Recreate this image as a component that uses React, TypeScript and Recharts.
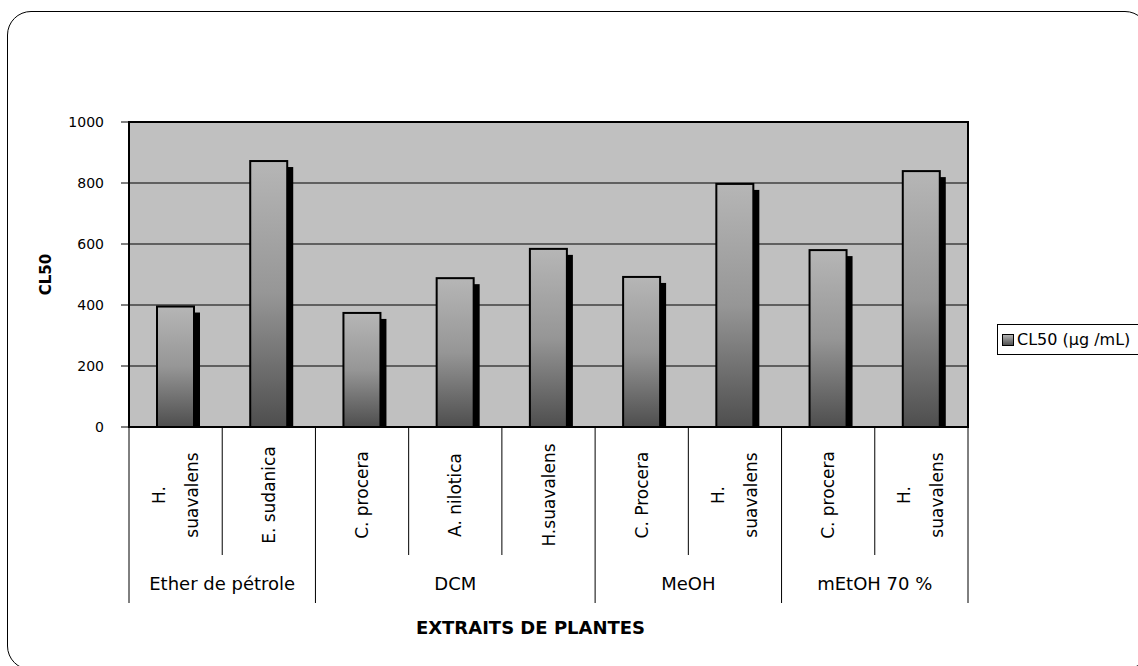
import React from 'react';
import { BarChart, Bar, XAxis, YAxis, CartesianGrid, ReferenceArea, Legend } from 'recharts';

// CL50 per plant extract, grouped by extraction solvent
const plants = [
  'H.\nsuavalens',
  'E. sudanica',
  'C. procera',
  'A. nilotica',
  'H.suavalens',
  'C. Procera',
  'H.\nsuavalens',
  'C. procera',
  'H.\nsuavalens',
];
const solvents = [
  'Ether de pétrole',
  'Ether de pétrole',
  'DCM',
  'DCM',
  'DCM',
  'MeOH',
  'MeOH',
  'mEtOH 70 %',
  'mEtOH 70 %',
];
const cl50 = [395, 872, 374, 488, 584, 492, 797, 580, 839];
const yTicks = [0, 200, 400, 600, 800, 1000];
const SERIES_NAME = 'CL50 (µg /mL)';

const data = plants.map((plant, i) => ({ plant, solvent: solvents[i], cl50: cl50[i] }));

// layout
const W = 1138;
const H = 666;
const MARGIN = { top: 122, right: 170, bottom: 0, left: 0 };
const Y_AXIS_W = 129;
const X_AXIS_H = H - 427;
const PLOT_W = W - MARGIN.right - MARGIN.left - Y_AXIS_W;
const FONT = '"DejaVu Sans", sans-serif';

function PlantTick(props: any) {
  const { x, y, payload, index } = props;
  const step = PLOT_W / plants.length;
  const left = x - step / 2;
  const lines = String(payload.value).split('\n');
  const first = index === 0 || solvents[index] !== solvents[index - 1];
  const last = index === plants.length - 1;

  let groupLabel = null;
  if (first) {
    let n = 0;
    while (index + n < solvents.length && solvents[index + n] === solvents[index]) n++;
    groupLabel = (
      <text x={left + (n * step) / 2} y={y + 163} textAnchor="middle" fontSize={18} fill="#000" fontFamily={FONT}>
        {solvents[index]}
      </text>
    );
  }

  const lineOffsets = lines.length === 2 ? [-17, 16] : [0];

  return (
    <g>
      <line x1={left} x2={left} y1={y} y2={y + (first ? 176 : 128)} stroke="#000" strokeWidth={1} />
      {last && <line x1={left + step} x2={left + step} y1={y} y2={y + 176} stroke="#000" strokeWidth={1} />}
      {lines.map((t, i) => (
        <text
          key={i}
          transform={`translate(${x + lineOffsets[i]}, ${y + 68}) rotate(-90)`}
          textAnchor="middle"
          dominantBaseline="central"
          fontSize={17}
          fill="#000"
          fontFamily={FONT}
        >
          {t}
        </text>
      ))}
      {groupLabel}
    </g>
  );
}

function ShadowBar(props: any) {
  const { x, y, width, height } = props;
  if (!height || height <= 0) return null;
  return (
    <g>
      <rect x={x + 6} y={y + 6} width={width} height={Math.max(height - 6, 0)} fill="#000" />
      <rect x={x} y={y} width={width} height={height} fill="url(#barFill)" stroke="#000" strokeWidth={2} />
    </g>
  );
}

function LegendBox(props: any) {
  const item = props.payload && props.payload[0];
  return (
    <div
      style={{
        border: '1px solid #000',
        background: '#fff',
        height: 31,
        width: 180,
        display: 'flex',
        alignItems: 'center',
        paddingLeft: 4,
        boxSizing: 'border-box',
        fontFamily: FONT,
        fontSize: 16,
        color: '#000',
      }}
    >
      <span
        style={{
          display: 'inline-block',
          width: 10,
          height: 10,
          border: '1px solid #000',
          background: 'linear-gradient(#b4b4b4, #505050)',
          marginRight: 3,
        }}
      />
      {item ? item.value : SERIES_NAME}
    </div>
  );
}

export default function App() {
  return (
    <div style={{ position: 'absolute', left: 0, top: 0, width: W, height: H, overflow: 'hidden', background: '#fff' }}>
      <div
        style={{
          position: 'absolute',
          left: 7,
          top: 11,
          width: 1142,
          height: 659,
          border: '1.5px solid #000',
          borderRadius: 24,
          boxSizing: 'border-box',
        }}
      />
      <div style={{ position: 'absolute', left: 0, top: 0 }}>
        <BarChart width={W} height={H} data={data} margin={MARGIN}>
          <defs>
            <linearGradient id="barFill" x1="0" y1="0" x2="0" y2="1">
              <stop offset="0%" stopColor="#b6b6b6" />
              <stop offset="50%" stopColor="#969696" />
              <stop offset="100%" stopColor="#4e4e4e" />
            </linearGradient>
          </defs>
          <CartesianGrid vertical={false} stroke="#000" fill="#c0c0c0" strokeOpacity={1} />
          <XAxis
            dataKey="plant"
            height={X_AXIS_H}
            tickLine={false}
            tickSize={0}
            tickMargin={0}
            interval={0}
            axisLine={{ stroke: '#000' }}
            tick={<PlantTick />}
            label={(p: any) => {
              const vb = p.viewBox || {};
              return (
                <text
                  x={(vb.x ?? Y_AXIS_W) + (vb.width ?? PLOT_W) / 2 - 18}
                  y={634}
                  textAnchor="middle"
                  fontSize={18}
                  fontWeight="bold"
                  fill="#000"
                  fontFamily={FONT}
                >
                  EXTRAITS DE PLANTES
                </text>
              );
            }}
          />
          <YAxis
            width={Y_AXIS_W}
            domain={[0, 1000]}
            ticks={yTicks}
            interval={0}
            tickSize={8}
            tickMargin={17}
            axisLine={{ stroke: '#000', strokeWidth: 2 }}
            tickLine={{ stroke: '#000' }}
            tick={{ fill: '#000', fontSize: 14, fontFamily: FONT }}
            label={(p: any) => {
              const vb = p.viewBox || {};
              const cy = (vb.y ?? 122) + (vb.height ?? 305) / 2;
              return (
                <text
                  transform={`translate(46, ${cy}) rotate(-90)`}
                  textAnchor="middle"
                  dominantBaseline="central"
                  fontSize={15}
                  fontWeight="bold"
                  fill="#000"
                  fontFamily={FONT}
                >
                  CL50
                </text>
              );
            }}
          />
          <ReferenceArea y1={0} y2={1000} fill="none" fillOpacity={0} stroke="#000" strokeWidth={2} />
          <Legend
            layout="vertical"
            align="center"
            verticalAlign="middle"
            content={<LegendBox />}
            wrapperStyle={{ position: 'absolute', left: 997, top: 324, width: 180 }}
          />
          <Bar dataKey="cl50" name={SERIES_NAME} barSize={37} shape={<ShadowBar />} isAnimationActive={false} />
        </BarChart>
      </div>
    </div>
  );
}
